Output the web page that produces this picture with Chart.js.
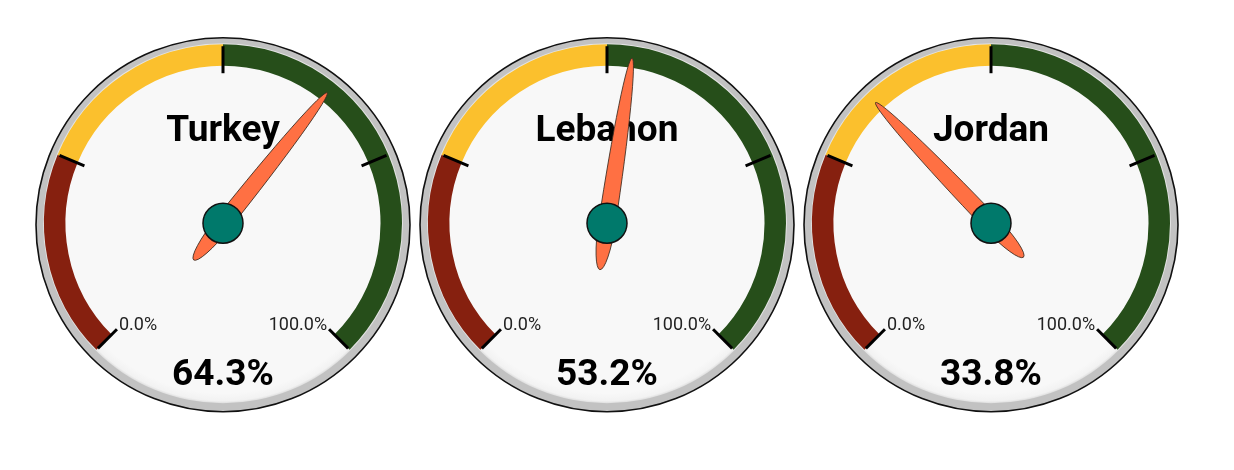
<!DOCTYPE html>
<html>
<head>
<meta charset="utf-8">
<script src="https://cdn.jsdelivr.net/npm/chart.js@4.4.1/dist/chart.umd.min.js"></script>
<style>
  body { margin: 0; background: #fff; width: 1234px; height: 470px; overflow: hidden; position: relative; }
  .gauge { position: absolute; top: 0; width: 384px; height: 470px; }
</style>
</head>
<body>
<div class="gauge" style="left:31px"><canvas id="gauge0"></canvas></div>
<div class="gauge" style="left:415px"><canvas id="gauge1"></canvas></div>
<div class="gauge" style="left:799px"><canvas id="gauge2"></canvas></div>
<script>
// data
const countries = ['Turkey', 'Lebanon', 'Jordan'];
const values = [64.3, 53.2, 33.8];
const bandLimits = [0, 25, 50, 100];
const bandColors = ['#86200f', '#fbc02d', '#264e1a'];
const tickValues = [0, 25, 50, 75, 100];
const endLabels = ['0.0%', '100.0%'];

const FONT = 'Roboto, "Noto Sans", sans-serif';

// map a value onto the arc drawn by the doughnut
function valueAngle(chart, v) {
  const arcs = chart.getDatasetMeta(0).data;
  const a0 = arcs[0].startAngle;
  const a1 = arcs[arcs.length - 1].endAngle;
  const min = bandLimits[0], max = bandLimits[bandLimits.length - 1];
  return a0 + (v - min) / (max - min) * (a1 - a0);
}

const gaugePlugin = {
  id: 'gauge',
  beforeDatasetsDraw(chart) {
    const arc = chart.getDatasetMeta(0).data[0];
    const ctx = chart.ctx;
    const cx = arc.x, cy = arc.y;
    ctx.save();
    // outer gray bezel
    ctx.beginPath();
    ctx.arc(cx, cy + 1.5, 187, 0, Math.PI * 2);
    ctx.fillStyle = '#c2c2c2';
    ctx.fill();
    ctx.lineWidth = 1.6;
    ctx.strokeStyle = '#111';
    ctx.stroke();
    // face
    const g = ctx.createRadialGradient(cx, cy, 170, cx, cy, 181);
    g.addColorStop(0, '#f8f8f8');
    g.addColorStop(0.7, '#f2f2f2');
    g.addColorStop(1, '#d6d6d6');
    ctx.beginPath();
    ctx.arc(cx, cy, 180, 0, Math.PI * 2);
    ctx.fillStyle = g;
    ctx.fill();
    ctx.restore();
  },
  afterDatasetsDraw(chart, args, opts) {
    const arc = chart.getDatasetMeta(0).data[0];
    const ctx = chart.ctx;
    const cx = arc.x, cy = arc.y;
    ctx.save();

    // ticks
    ctx.strokeStyle = '#000';
    ctx.lineWidth = 3;
    tickValues.forEach(t => {
      const a = valueAngle(chart, t);
      ctx.beginPath();
      ctx.moveTo(cx + Math.cos(a) * 150, cy + Math.sin(a) * 150);
      ctx.lineTo(cx + Math.cos(a) * 177, cy + Math.sin(a) * 177);
      ctx.stroke();
    });

    // end labels
    ctx.fillStyle = '#222';
    ctx.font = '18px ' + FONT;
    ctx.textBaseline = 'alphabetic';
    const aMin = valueAngle(chart, bandLimits[0]);
    const aMax = valueAngle(chart, bandLimits[bandLimits.length - 1]);
    ctx.textAlign = 'left';
    ctx.fillText(endLabels[0], cx + Math.cos(aMin) * 150 + 2, cy + Math.sin(aMin) * 150 + 1);
    ctx.textAlign = 'right';
    ctx.fillText(endLabels[1], cx + Math.cos(aMax) * 150 - 2, cy + Math.sin(aMax) * 150 + 1);

    // title and value
    ctx.textAlign = 'center';
    ctx.fillStyle = '#000';
    ctx.font = 'bold 37px ' + FONT;
    ctx.fillText(opts.title, cx, cy - 82);
    ctx.font = 'bold 37px ' + FONT;
    ctx.fillText(opts.value.toFixed(1) + '%', cx, cy + 162);

    // needle
    const a = valueAngle(chart, opts.value);
    ctx.translate(cx, cy);
    ctx.rotate(a);
    ctx.beginPath();
    ctx.ellipse(0, 0, 167, 8.5, 0, -Math.PI / 2, Math.PI / 2);
    ctx.ellipse(0, 0, 47, 8.5, 0, Math.PI / 2, Math.PI * 1.5);
    ctx.closePath();
    ctx.fillStyle = '#ff7043';
    ctx.fill();
    ctx.lineWidth = 0.8;
    ctx.strokeStyle = '#3a2a20';
    ctx.stroke();
    ctx.setTransform(1, 0, 0, 1, 0, 0);

    // hub
    ctx.beginPath();
    ctx.arc(cx, cy, 20, 0, Math.PI * 2);
    ctx.fillStyle = '#00796b';
    ctx.fill();
    ctx.lineWidth = 1.5;
    ctx.strokeStyle = '#111';
    ctx.stroke();
    ctx.restore();
  }
};

const bandSizes = bandLimits.slice(1).map((v, i) => v - bandLimits[i]);

countries.forEach((name, i) => {
  new Chart(document.getElementById('gauge' + i), {
    type: 'doughnut',
    data: {
      labels: ['low', 'mid', 'high'],
      datasets: [{
        data: bandSizes,
        backgroundColor: bandColors,
        borderWidth: 0
      }]
    },
    options: {
      responsive: true,
      maintainAspectRatio: false,
      animation: false,
      rotation: -135,
      circumference: 270,
      radius: 179,
      cutout: '88%',
      layout: { padding: { left: 0, right: 0, top: 0, bottom: 76 } },
      events: [],
      plugins: {
        legend: { display: false },
        tooltip: { enabled: false },
        gauge: { title: name, value: values[i] }
      }
    },
    plugins: [gaugePlugin]
  });
});
</script>
</body>
</html>
